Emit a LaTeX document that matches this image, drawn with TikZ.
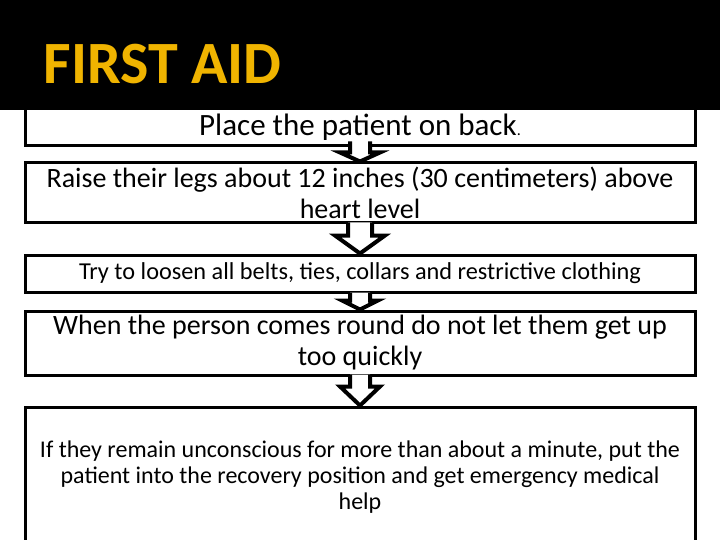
\documentclass[tikz,border=0pt]{standalone}
\usepackage{fontspec}
\setmainfont{Carlito}
\usetikzlibrary{calc}
\definecolor{gold}{HTML}{F0B400}
\begin{document}
\begin{tikzpicture}[x=1pt,y=-1pt,
  box/.style={draw=black,line width=3pt,fill=white,minimum width=670pt,inner sep=0pt,align=center},
  barrow/.style={draw=black,fill=white,line width=4pt,line join=miter}]
\useasboundingbox (0,0) rectangle (720,540);
\fill[white] (0,0) rectangle (720,540);
\node[box,minimum height=40pt] (b1) at (360,126) {};
\fill[black] (0,0) rectangle (720,110);
\node[anchor=west,text=gold,font=\bfseries\fontsize{60}{64}\selectfont] (t) at (40,64) {FIRST AID};
\node[font=\fontsize{31}{34}\selectfont] (l1) at (360,127) {Place the patient on back{\fontsize{16}{18}\selectfont.}};
\node[box,minimum height=60pt,font=\fontsize{28}{31}\selectfont] (b2) at (360,193) {Raise their legs about 12 inches (30 centimeters) above\\heart level};
\node[box,minimum height=37pt,font=\fontsize{24.3}{27}\selectfont] (b3) at (360,273.5) {Try to loosen all belts, ties, collars and restrictive clothing};
\node[box,minimum height=64pt,font=\fontsize{28}{31}\selectfont] (b4) at (360,343) {When the person comes round do not let them get up\\too quickly};
\node[box,minimum height=140pt,font=\fontsize{24}{26}\selectfont] (b5) at (360,477) {If they remain unconscious for more than about a minute, put the\\patient into the recovery position and get emergency medical\\help};
\coordinate (a1) at ($(b1.south)+(0,-6)$);
\draw[barrow] ($(a1)+(-10,0)$) -- ++(0,11) -- ++(-10,0) -- ($(b2.north)$) -- ($(a1)+(20,11)$) -- ++(-10,0) -- ++(0,-11);
\coordinate (a2) at ($(b2.south)+(0,-2)$);
\draw[barrow] ($(a2)+(-12,0)$) -- ++(0,13) -- ++(-13,0) -- ($(b3.north)$) -- ($(a2)+(25,13)$) -- ++(-13,0) -- ++(0,-13);
\coordinate (a3) at ($(b3.south)+(0,-1)$);
\draw[barrow] ($(a3)+(-10,0)$) -- ++(0,8) -- ++(-8,0) -- ($(b4.north)$) -- ($(a3)+(18,8)$) -- ++(-8,0) -- ++(0,-8);
\coordinate (a4) at ($(b4.south)+(0,-2)$);
\draw[barrow] ($(a4)+(-10,0)$) -- ++(0,12) -- ++(-10,0) -- ($(b5.north)$) -- ($(a4)+(20,12)$) -- ++(-10,0) -- ++(0,-12);
\end{tikzpicture}
\end{document}
